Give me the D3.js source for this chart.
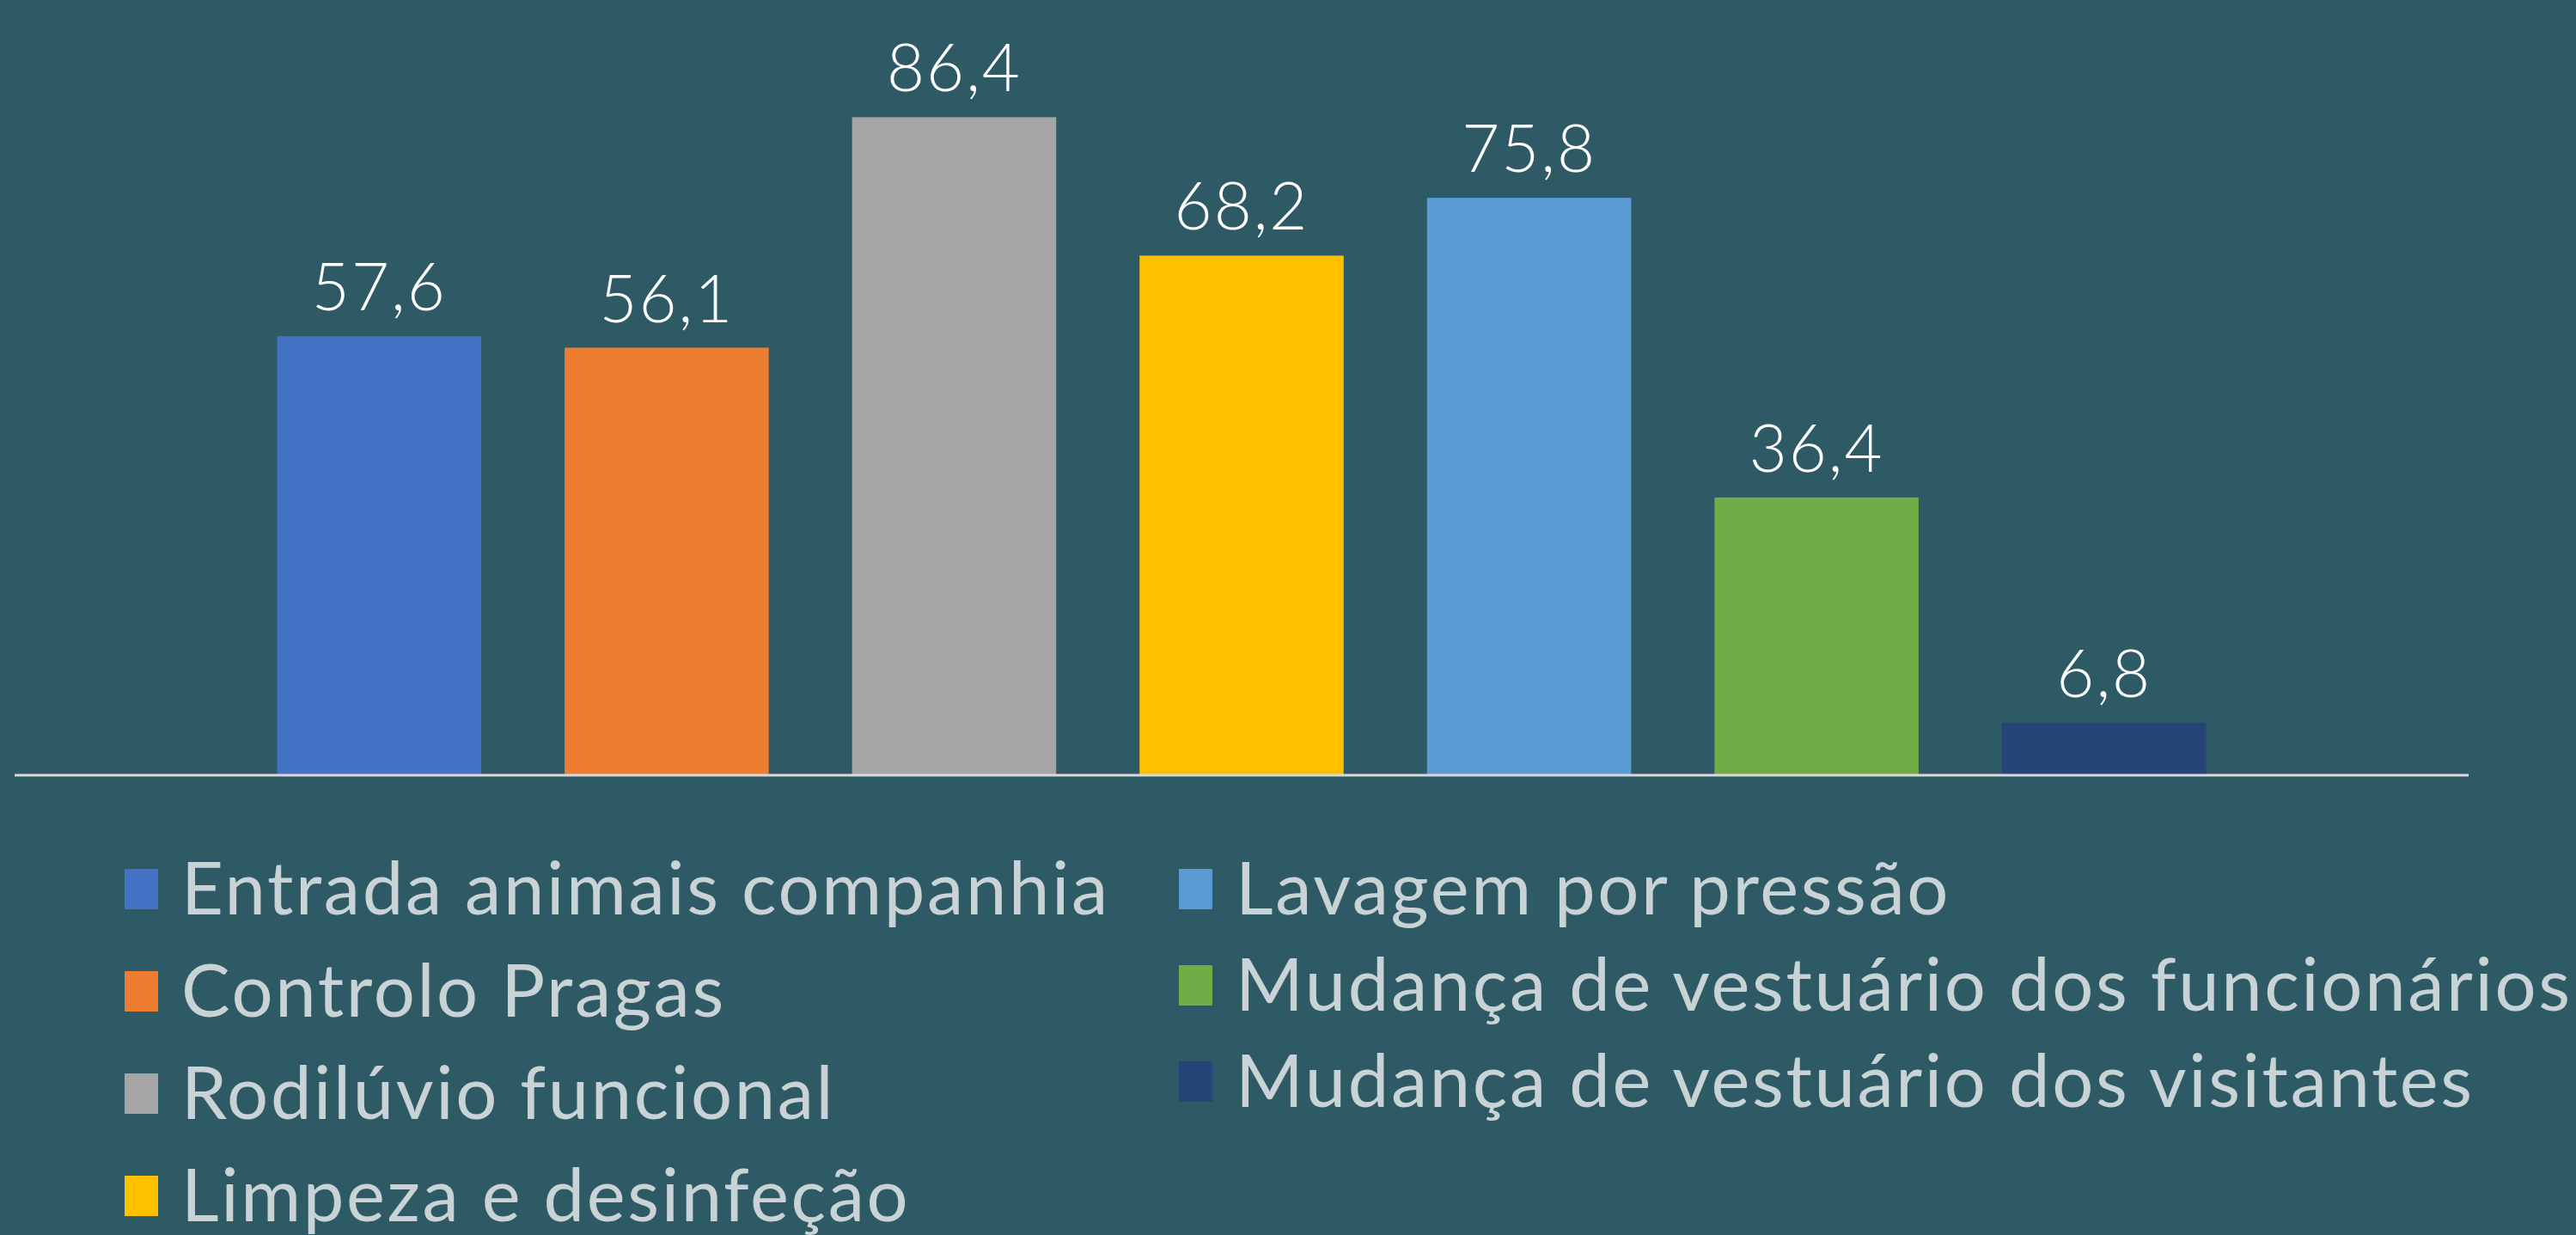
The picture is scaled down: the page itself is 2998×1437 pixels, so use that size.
<!DOCTYPE html>
<html>
<head>
<meta charset="utf-8">
<script src="https://cdn.jsdelivr.net/npm/d3@7"></script>
<style>
  body { margin: 0; background: #2e5a66; }
  svg { display: block; }
  .value-label { font-family: Lato, "Open Sans", sans-serif; font-weight: 300; fill: #ffffff; letter-spacing: 2px; }
  .legend-label { font-family: Lato, "Open Sans", sans-serif; font-weight: 400; fill: #c9d3d6; letter-spacing: 2.6px; }
</style>
</head>
<body>
<svg width="2998" height="1437"></svg>
<script>
var categories = [
  "Entrada animais companhia",
  "Controlo Pragas",
  "Rodilúvio funcional",
  "Limpeza e desinfeção",
  "Lavagem por pressão",
  "Mudança de vestuário dos funcionários",
  "Mudança de vestuário dos visitantes"
];
var values = [57.6, 56.1, 86.4, 68.2, 75.8, 36.4, 6.8];
var colors = ["#4472c4", "#ed7d31", "#a5a5a5", "#ffc000", "#5b9bd5", "#70ad47", "#264478"];

var svg = d3.select("svg"),
    width = +svg.attr("width"),
    height = +svg.attr("height");

var data = categories.map(function(c, i) {
  return {name: c, value: values[i], color: colors[i]};
});

// plot area
var axisLeft = 17, axisRight = 2873, baseline = 901;

var x = d3.scaleBand()
    .domain(categories)
    .range([axisLeft + 257, axisRight - 257])
    .paddingInner(0.29)
    .paddingOuter(0.145);

var y = d3.scaleLinear()
    .domain([0, 100])
    .range([baseline, 16]);

var chart = svg.append("g");

chart.selectAll(".bar")
    .data(data)
  .enter().append("rect")
    .attr("class", "bar")
    .attr("x", function(d) { return x(d.name); })
    .attr("y", function(d) { return y(d.value); })
    .attr("width", x.bandwidth())
    .attr("height", function(d) { return baseline - y(d.value); })
    .attr("fill", function(d) { return d.color; });

// value labels
var fmt = function(v) { return d3.format(".1f")(v).replace(".", ","); };
chart.selectAll(".value-label")
    .data(data)
  .enter().append("text")
    .attr("class", "value-label")
    .attr("x", function(d) { return x(d.name) + x.bandwidth() / 2; })
    .attr("y", function(d) { return y(d.value) - 30; })
    .attr("text-anchor", "middle")
    .attr("font-size", 76)
    .text(function(d) { return fmt(d.value); });

// baseline
chart.append("line")
    .attr("x1", axisLeft)
    .attr("x2", axisRight)
    .attr("y1", baseline + 1)
    .attr("y2", baseline + 1)
    .attr("stroke", "#d9d9d9")
    .attr("stroke-width", 3);

// legend: two columns
var legend = svg.append("g");
var colX = [145, 1372], rowY0 = 1064, rowStep = [119, 112];

var item = legend.selectAll(".legend-item")
    .data(data)
  .enter().append("g")
    .attr("class", "legend-item")
    .attr("transform", function(d, i) {
      var col = i < 4 ? 0 : 1, row = i < 4 ? i : i - 4;
      return "translate(" + colX[col] + "," + (rowY0 + row * rowStep[col]) + ")";
    });

item.append("rect")
    .attr("x", 0)
    .attr("y", -53)
    .attr("width", 39)
    .attr("height", 47)
    .attr("fill", function(d) { return d.color; });

item.append("text")
    .attr("class", "legend-label")
    .attr("x", 66)
    .attr("y", 0)
    .attr("font-size", 85)
    .text(function(d) { return d.name; });
</script>
</body>
</html>
